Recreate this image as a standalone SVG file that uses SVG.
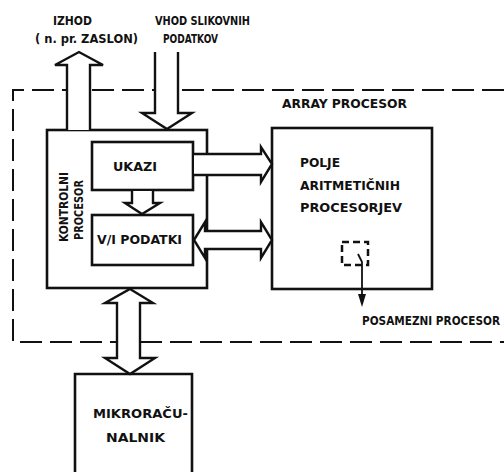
<svg xmlns="http://www.w3.org/2000/svg" width="504" height="472" viewBox="0 0 504 472">
<style>
.box{fill:#fff;stroke:#111;stroke-width:2.6}
.arr{fill:#fff;stroke:#111;stroke-width:2.4;stroke-linejoin:miter}
.dash{fill:none;stroke:#111;stroke-width:2;stroke-dasharray:22 8}
.t{font-family:"Liberation Sans Narrow","DejaVu Sans Condensed","Liberation Sans",sans-serif;font-weight:bold;font-size:13px;fill:#111}
.s{font-size:11.5px}
</style>
<rect width="504" height="472" fill="#fff"/>
<g id="array-boundary">
<path class="dash" d="M504,90 H13 V342 H504"/>
<text class="t" x="282" y="108" textLength="125" lengthAdjust="spacingAndGlyphs">ARRAY PROCESOR</text>
</g>
<g id="kontrolni">
<rect class="box" x="47" y="130" width="160" height="158"/>
<text class="t" transform="translate(68,207) rotate(-90)" text-anchor="middle" textLength="70" lengthAdjust="spacingAndGlyphs">KONTROLNI</text>
<text class="t" transform="translate(83,210) rotate(-90)" text-anchor="middle" textLength="60" lengthAdjust="spacingAndGlyphs">PROCESOR</text>
</g>
<g id="ukazi">
<rect class="box" x="92" y="142" width="101" height="48"/>
<text class="t" x="113" y="171" textLength="44" lengthAdjust="spacingAndGlyphs">UKAZI</text>
</g>
<g id="vi-podatki">
<rect class="box" x="92" y="215" width="101" height="50"/>
<text class="t" x="97" y="244" textLength="85" lengthAdjust="spacingAndGlyphs">V/I PODATKI</text>
</g>
<g id="polje">
<rect class="box" x="272" y="128" width="160" height="161"/>
<text class="t" x="300" y="167" textLength="40" lengthAdjust="spacingAndGlyphs">POLJE</text>
<text class="t" x="300" y="190" textLength="100" lengthAdjust="spacingAndGlyphs">ARITMETIČNIH</text>
<text class="t" x="300" y="212" textLength="102" lengthAdjust="spacingAndGlyphs">PROCESORJEV</text>
</g>
<g id="posamezni">
<rect x="342" y="242" width="26" height="23" fill="none" stroke="#111" stroke-width="2.5" stroke-dasharray="7 4"/>
<path d="M358,254 L362,262 L362,298" fill="none" stroke="#111" stroke-width="1.8"/>
<polygon points="358,294 366,294 362,307" fill="#111"/>
<text class="t s" x="362" y="325" textLength="138" lengthAdjust="spacingAndGlyphs">POSAMEZNI PROCESOR</text>
</g>
<g id="mikroracunalnik">
<path class="box" d="M75,474 V374 H192 V474"/>
<text class="t" x="93" y="418" textLength="95" lengthAdjust="spacingAndGlyphs">MIKRORAČU-</text>
<text class="t" x="106" y="442" textLength="59" lengthAdjust="spacingAndGlyphs">NALNIK</text>
</g>
<g id="labels-top">
<text class="t" x="53" y="25" textLength="39" lengthAdjust="spacingAndGlyphs">IZHOD</text>
<text class="t" x="35" y="43" textLength="103" lengthAdjust="spacingAndGlyphs">( n. pr. ZASLON)</text>
<text class="t" x="155" y="25" textLength="95" lengthAdjust="spacingAndGlyphs">VHOD SLIKOVNIH</text>
<text class="t" x="163" y="43" textLength="55" lengthAdjust="spacingAndGlyphs">PODATKOV</text>
</g>
<g id="connectors">
<polyline class="arr" points="67,130 67,65 55,65 79,52 103,65 90,65 90,130"/>
<polyline class="arr" points="155,52 155,113 142,113 167,129 192,113 178,113 178,52"/>
<polyline class="arr" points="132,191 132,203 125,203 142,214 160,203 153,203 153,191"/>
<polyline class="arr" points="194,154 261,154 261,147 272,164 261,182 261,175 194,175"/>
<polygon class="arr" points="194,240 205,222 205,231 261,231 261,222 272,240 261,258 261,249 205,249 205,258"/>
<polygon class="arr" points="130,289 153,303 140,303 140,358 155,358 130,374 105,358 117,358 117,303 105,303"/>
</g>
</svg>
